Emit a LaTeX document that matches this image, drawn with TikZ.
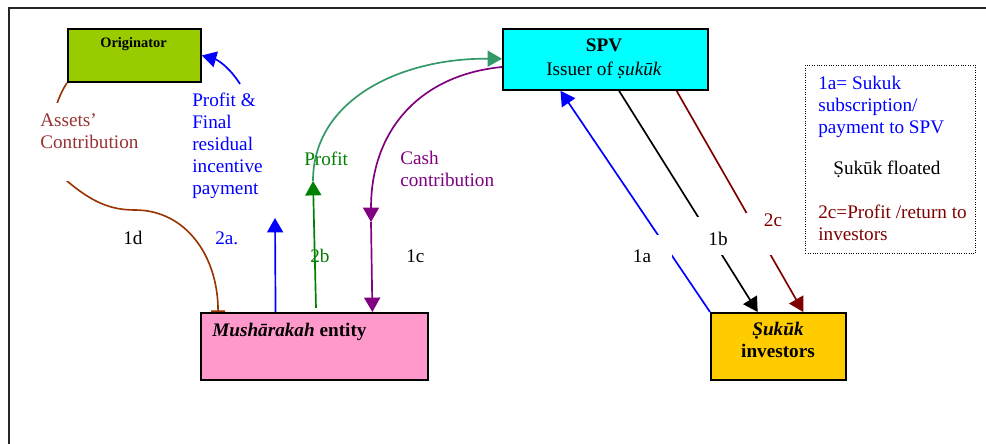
\documentclass[tikz,border=0pt]{standalone}
\usepackage{fontspec}
\setmainfont{Liberation Serif}
\usetikzlibrary{arrows.meta,calc}
\definecolor{origgreen}{HTML}{99CC00}
\definecolor{spvcyan}{HTML}{00FFFF}
\definecolor{mushpink}{HTML}{FF99CC}
\definecolor{invgold}{HTML}{FFCC00}
\definecolor{flowblue}{HTML}{0000FF}
\definecolor{flowgreen}{HTML}{008000}
\definecolor{curvegreen}{HTML}{339966}
\definecolor{flowpurple}{HTML}{800080}
\definecolor{flowred}{HTML}{800000}
\definecolor{flowbrown}{HTML}{993300}
\definecolor{assetred}{HTML}{993333}
\newcommand\basefont{\fontsize{12}{13.8}\selectfont}
\newcommand\topstrut{\rule{0pt}{10pt}}

\begin{document}
\begin{tikzpicture}[x=0.625pt,y=-0.625pt,
  font=\basefont,
  every node/.style={inner sep=0pt},
  entity/.style={draw=black, line width=1.2pt, anchor=north west, inner sep=0pt},
  tipend/.style={-{Triangle[length=9pt,width=10pt]}},
  flow/.style={line width=1.05pt, tipend},
  txt/.style={anchor=base west},
  mask/.style={fill=white, inner sep=0pt},
]
\useasboundingbox (0,0) rectangle (986,444);
\fill[white] (0,0) rectangle (986,444);
% page frame
\draw[line width=1.2pt, black!85] (9,444) -- (9,8) -- (986,8);

% parties
\node[entity, fill=origgreen, minimum width=83.1pt, minimum height=33.1pt] (orig) at (67,28) {};
\node[entity, fill=spvcyan, minimum width=128.1pt, minimum height=38.1pt] (spv) at (502,28) {};
\node[entity, fill=mushpink, minimum width=141.9pt, minimum height=41.9pt] (mush) at (200,312) {};
\node[entity, fill=invgold, minimum width=84.4pt, minimum height=41.9pt] (inv) at (710,312) {};
\node[draw, line width=0.6pt, dash pattern=on 0.6pt off 0.9pt, anchor=north west,
      minimum width=106.25pt, minimum height=117.5pt] (legend) at (805,65) {};

% titles inside the boxes
\node[font=\fontsize{9}{10}\selectfont\bfseries, anchor=base] (origtxt) at (133.5,48) {Originator};
\node[font=\basefont\bfseries, anchor=base] (spvname) at (604,52) {SPV};
\node[anchor=base] (spvrole) at (604,76) {Issuer of \textit{ṣukūk}};
\node[txt, font=\basefont\bfseries] (mushtxt) at (212,337) {\textit{Mushārakah} entity};
\node[anchor=north, align=center, font=\basefont\bfseries] (invtxt) at (778,319)
      {\topstrut\textit{Ṣukūk}\\investors};

% free ends of the flows
\coordinate (b2a) at (275,218);
\coordinate (gtop) at (313,181);
\coordinate (pmid) at (371,222);
\coordinate (pstart) at (240,84);

% SPV <-> investors
\draw[flow, flowblue] (inv.north west) -- ($(spv.south west)!0.283!(spv.south east)$);
\draw[flow, black] ($(spv.south west)!0.566!(spv.south east)$) -- ($(inv.north west)!0.348!(inv.north east)$);
\draw[flow, flowred] ($(spv.south west)!0.844!(spv.south east)$) -- ($(inv.north west)!0.681!(inv.north east)$);

% SPV <-> musharakah
\draw[flow, flowgreen, shorten <=2.5pt] ($(mush.north west)!0.507!(mush.north east)$) -- (gtop);
\draw[flow, curvegreen] (gtop) .. controls (313,100) and (400,58) .. ($(spv.north west)!0.49!(spv.south west)$);
\draw[flow, flowpurple] ($(spv.north west)!0.62!(spv.south west)$) .. controls (420,75) and (371,130) .. (pmid);
\draw[flow, flowpurple] (pmid) -- ($(mush.north west)!0.753!(mush.north east)$);

% originator <-> musharakah
\draw[flow, flowblue] ($(mush.north west)!0.33!(mush.north east)$) -- (b2a);
\draw[flow, flowblue] (pstart) .. controls (230,68) and (218,60) .. (orig.east);
\draw[line width=1pt, flowbrown, -{Bar[width=8.75pt]}] (orig.south west)
      .. controls (50,108) and (42,160) .. (67,181)
      .. controls (92,202) and (110,210) .. (135,210)
      .. controls (185,210) and (218,255) .. ($(mush.north west)!0.079!(mush.north east)$);

% flow labels
\node[anchor=north west, align=left, text=flowblue] (payout) at (192,90)
      {\topstrut Profit \&\\Final\\residual\\incentive\\payment};
\node[txt, text=flowgreen] (profit) at (304,166) {Profit};
\node[anchor=north west, align=left, text=flowpurple] (cash) at (400,148)
      {\topstrut Cash\\contribution};
\node[txt] (l1d) at (123,245) {1d};
\node[txt, text=flowblue] (l2a) at (215,245) {2a.};
\node[txt, text=flowgreen] (l2b) at (310,263) {2b};
\node[txt] (l1c) at (406,263) {1c};

% labels sitting on white boxes over the lines
\node[mask, anchor=base, text height=17.5pt, text depth=5pt, inner xsep=13.1pt] (l1a) at (642,263) {1a};
\node[mask, anchor=base, text height=18.1pt, text depth=5.6pt, inner xsep=9.4pt] (l1b) at (718,246) {1b};
\node[mask, anchor=base, text height=8.75pt, text depth=17.5pt, inner xsep=11.25pt, text=flowred] (l2c) at (773,227) {2c};
\node[mask, anchor=north west, align=left, inner xsep=3.75pt, text=assetred] (assets) at (34,103)
      {\rule{0pt}{14.4pt}Assets’\\Contribution\rule[-20.6pt]{0pt}{20.6pt}};

% legend text
\node[anchor=north west, align=left, text=flowblue] (legA) at (818,73)
      {\topstrut 1a= Sukuk\\subscription/\\payment to SPV};
\node[txt] (legB) at (833,175) {Ṣukūk floated};
\node[anchor=north west, align=left, text=flowred] (legC) at (818,202)
      {\topstrut 2c=Profit /return to\\investors};
\end{tikzpicture}
\end{document}
